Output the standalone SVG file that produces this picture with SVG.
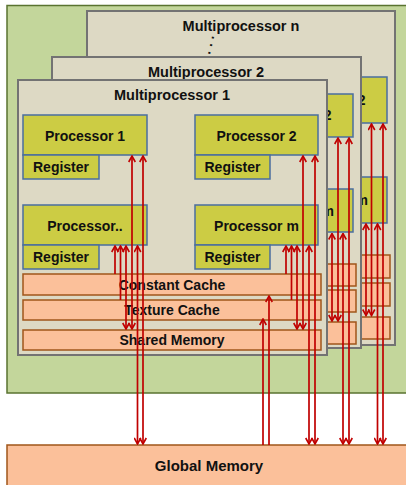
<svg xmlns="http://www.w3.org/2000/svg" width="406" height="485" viewBox="0 0 406 485">
<defs>
<style>
.bg{fill:#c3d69b;stroke:#5a7330;stroke-width:1.5}
.panel{fill:#ddd9c4;stroke:#737373;stroke-width:2}
.proc{fill:#cccc44;stroke:#4a6e9e;stroke-width:1.5}
.cache{fill:#fbc09a;stroke:#a0561a;stroke-width:1.5}
.t{font-family:"Liberation Sans",Arial,sans-serif;font-weight:bold;font-size:14px;fill:#111;text-anchor:middle}
.title{font-size:14.5px}
.big{font-size:15px}
.bi{stroke:#c00000;stroke-width:1.7;fill:none;marker-start:url(#ah);marker-end:url(#ah)}
.uni{stroke:#c00000;stroke-width:1.7;fill:none;marker-end:url(#ah)}
</style>
<marker id="ah" markerUnits="userSpaceOnUse" viewBox="0 0 8 8" markerWidth="8" markerHeight="8" refX="7" refY="4" orient="auto-start-reverse">
<path d="M1,0.7 L7,4 L1,7.3" fill="none" stroke="#c00000" stroke-width="1.6"/>
</marker>
</defs>

<g id="device">
<rect class="bg" x="7" y="5.5" width="402" height="387.5"/>
</g>

<g id="multiprocessor-n">
<rect class="panel" x="87" y="11" width="308" height="334"/>
<text class="t title" x="241" y="31">Multiprocessor n</text>
<text class="t" x="210" y="45" font-size="13" fill="#555" transform="rotate(103 210 45)">. . .</text>
<rect class="proc" x="92" y="77" width="124" height="46"/>
<rect class="proc" x="264" y="77" width="123" height="46"/>
<text class="t" x="325.5" y="105">Processor 2</text>
<rect class="proc" x="92" y="177" width="124" height="46"/>
<rect class="proc" x="264" y="177" width="123" height="46"/>
<text class="t" x="325.5" y="205">Processor m</text>
<rect class="cache" x="92" y="255" width="298" height="23"/>
<rect class="cache" x="92" y="283" width="298" height="23"/>
<rect class="cache" x="92" y="317" width="298" height="22"/>
</g>

<g id="multiprocessor-2">
<rect class="panel" x="52" y="57" width="309" height="291"/>
<text class="t title" x="206" y="77">Multiprocessor 2</text>
<rect class="proc" x="58" y="94" width="124" height="43"/>
<rect class="proc" x="230" y="94" width="123" height="43"/>
<text class="t" x="291.5" y="120">Processor 2</text>
<rect class="proc" x="58" y="189" width="124" height="43"/>
<rect class="proc" x="230" y="189" width="123" height="43"/>
<text class="t" x="291.5" y="216">Processor m</text>
<rect class="cache" x="58" y="264" width="298" height="22"/>
<rect class="cache" x="58" y="290" width="298" height="22"/>
<rect class="cache" x="58" y="322" width="298" height="22"/>
</g>

<g id="multiprocessor-1">
<rect class="panel" x="18" y="80" width="309" height="275"/>
<text class="t title" x="172" y="100">Multiprocessor 1</text>
</g>
<g id="processor-1"><rect class="proc" x="23" y="115" width="124" height="40"/><text class="t" x="85" y="141">Processor 1</text></g>
<g id="register-1"><rect class="proc" x="23" y="155" width="76" height="24"/><text class="t" x="61" y="172">Register</text></g>
<g id="processor-2"><rect class="proc" x="195" y="115" width="123" height="40"/><text class="t" x="256.5" y="141">Processor 2</text></g>
<g id="register-2"><rect class="proc" x="195" y="155" width="75" height="24"/><text class="t" x="232.5" y="172">Register</text></g>
<g id="processor-dots"><rect class="proc" x="23" y="205" width="124" height="40"/><text class="t" x="85" y="231">Processor..</text></g>
<g id="register-3"><rect class="proc" x="23" y="245" width="76" height="24"/><text class="t" x="61" y="262">Register</text></g>
<g id="processor-m"><rect class="proc" x="195" y="205" width="123" height="40"/><text class="t" x="256.5" y="231">Processor m</text></g>
<g id="register-4"><rect class="proc" x="195" y="245" width="75" height="24"/><text class="t" x="232.5" y="262">Register</text></g>
<g id="constant-cache"><rect class="cache" x="23" y="274" width="298" height="21"/><text class="t" x="172" y="290">Constant Cache</text></g>
<g id="texture-cache"><rect class="cache" x="23" y="300" width="298" height="20"/><text class="t" x="172" y="315">Texture Cache</text></g>
<g id="shared-memory"><rect class="cache" x="23" y="330" width="298" height="20"/><text class="t" x="172" y="345">Shared Memory</text></g>

<g id="global-memory">
<rect class="cache" x="7" y="445" width="402" height="42"/>
<text class="t big" x="209" y="470.5">Global Memory</text>
</g>

<g id="connectors">
<line class="bi" x1="132" y1="156" x2="132" y2="329"/>
<line class="bi" x1="143" y1="156" x2="143" y2="444"/>
<line class="uni" x1="115" y1="274" x2="115" y2="246"/>
<line class="uni" x1="120.5" y1="300" x2="120.5" y2="246"/>
<line class="bi" x1="126" y1="246" x2="126" y2="329"/>
<line class="bi" x1="137.5" y1="246" x2="137.5" y2="444"/>
<line class="bi" x1="303" y1="156" x2="303" y2="329"/>
<line class="bi" x1="315" y1="156" x2="315" y2="444"/>
<line class="uni" x1="286" y1="274" x2="286" y2="246"/>
<line class="uni" x1="291.5" y1="300" x2="291.5" y2="246"/>
<line class="bi" x1="297" y1="246" x2="297" y2="329"/>
<line class="bi" x1="309" y1="246" x2="309" y2="444"/>
<line class="uni" x1="263" y1="445" x2="263" y2="319"/>
<line class="uni" x1="269" y1="445" x2="269" y2="296"/>
<line class="bi" x1="338" y1="138" x2="338" y2="321"/>
<line class="bi" x1="349" y1="138" x2="349" y2="444"/>
<line class="bi" x1="332" y1="233.5" x2="332" y2="321"/>
<line class="bi" x1="343" y1="233.5" x2="343" y2="444"/>
<line class="bi" x1="371.5" y1="124" x2="371.5" y2="315.5"/>
<line class="bi" x1="383" y1="124" x2="383" y2="444"/>
<line class="bi" x1="366" y1="224" x2="366" y2="315.5"/>
<line class="bi" x1="377.5" y1="224" x2="377.5" y2="444"/>
</g>
</svg>
